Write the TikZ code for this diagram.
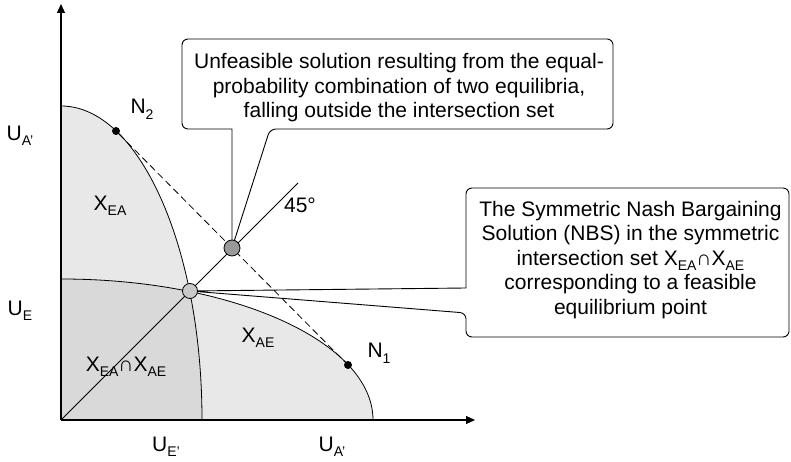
\documentclass[tikz,border=0pt]{standalone}
\usepackage{fontspec}
\setmainfont{Liberation Sans}
\usetikzlibrary{arrows.meta,positioning}
\newcommand{\lsub}[1]{\raisebox{-5.5pt}{\fontsize{14}{14}\selectfont #1}}
\definecolor{setgray}{gray}{0.91}
\definecolor{capgray}{gray}{0.85}
\definecolor{nbsgray}{gray}{0.79}
\definecolor{offgray}{gray}{0.60}

\begin{document}
\begin{tikzpicture}[x=1pt, y=1pt,
  line width=0.8pt,
  lbl/.style={font=\fontsize{21}{24}\selectfont, inner sep=0pt},
  note/.style={font=\fontsize{21}{24.5}\selectfont, align=center,
               inner sep=0pt},
  callout/.style={line width=0.9pt},
  dot/.style={circle, fill=black, inner sep=0pt, minimum size=8pt},
  sol/.style={circle, draw, line width=0.8pt, inner sep=0pt},
  >={Triangle[length=9pt, width=8pt]}]
\useasboundingbox (-61,-42) rectangle (730,420);
% the two feasible sets and their intersection
\fill[setgray] (0,0) -- (0,314)
  arc[start angle=90, end angle=0, x radius=141pt, y radius=314pt] -- cycle;
\fill[setgray] (0,0) -- (0,141)
  arc[start angle=90, end angle=0, x radius=312pt, y radius=141pt] -- cycle;
\begin{scope}
  \clip (0,0) -- (0,314)
    arc[start angle=90, end angle=0, x radius=141pt, y radius=314pt] -- cycle;
  \fill[capgray] (0,0) -- (0,141)
    arc[start angle=90, end angle=0, x radius=312pt, y radius=141pt] -- cycle;
\end{scope}
\draw (0,314) arc[start angle=90, end angle=0, x radius=141pt, y radius=314pt];
\draw (0,141) arc[start angle=90, end angle=0, x radius=312pt, y radius=141pt];

\coordinate (o) at (0,0);
\coordinate (ray) at (237,237);
\coordinate (ytip) at (0,416);
\coordinate (xtip) at (414,0);
\coordinate (nbspt) at (129,129);
\coordinate (offpt) at (171,172);
\node[dot] (n2) at (55,289) {};
\node[dot] (n1) at (287,55) {};

\draw (o) -- (ray);
\draw[dashed, dash pattern=on 7pt off 4pt] (n2) -- (n1);
\draw[->, line width=1.1pt] (o) -- (ytip);
\draw[->, line width=1.1pt] (o) -- (xtip);

% callouts
\node[note] (unf) at (338,332)
  {Unfeasible solution resulting from the equal-\\
   probability combination of two equilibria,\\
   falling outside the intersection set};
\coordinate (unfsw) at (121,291);
\coordinate (unfne) at (552,381);
\coordinate (ub1) at (171,291);
\coordinate (ub2) at (209,291);
\draw[callout] (offpt) -- (ub1) [rounded corners=6pt] -- (unfsw)
  -- (unfsw |- unfne) -- (unfne) -- (unfne |- unfsw)
  -- (ub2) [sharp corners] -- (offpt);

\node[note] (nbs) at (569.5,160)
  {The Symmetric Nash Bargaining\\
   Solution (NBS) in the symmetric\\
   intersection set X\lsub{EA}∩X\lsub{AE}\\
   corresponding to a feasible\\
   equilibrium point};
\coordinate (nbssw) at (405,83);
\coordinate (nbsne) at (728,232);
\coordinate (nb1) at (405,132);
\coordinate (nb2) at (405,107);
\draw[callout] (nbspt) -- (nb1) [rounded corners=6pt] -- (nbssw |- nbsne)
  -- (nbsne) -- (nbsne |- nbssw) -- (nbssw)
  -- (nb2) [sharp corners] -- (nbspt);

\node[sol, fill=nbsgray, minimum size=15pt] (nbsdot) at (nbspt) {};
\node[sol, fill=offgray, minimum size=16pt] (offdot) at (offpt) {};

% labels
\node[lbl] (ua) at (-41,284) {U\lsub{A’}};
\node[lbl] (ue) at (-41,109) {U\lsub{E}};
\node[lbl] (uex) at (105,-27) {U\lsub{E’}};
\node[lbl] (uax) at (271,-27) {U\lsub{A’}};
\node[lbl] (xea) at (49,214) {X\lsub{EA}};
\node[lbl] (xae) at (197,82) {X\lsub{AE}};
\node[lbl] (xcap) at (65,53) {X\lsub{EA}∩X\lsub{AE}};
\node[lbl, above right=8pt and 11pt of n2] (n2lbl) {N\lsub{2}};
\node[lbl, above right=-2pt and 16pt of n1] (n1lbl) {N\lsub{1}};
\node[lbl] (deg) at (239,215) {45°};
\end{tikzpicture}
\end{document}
